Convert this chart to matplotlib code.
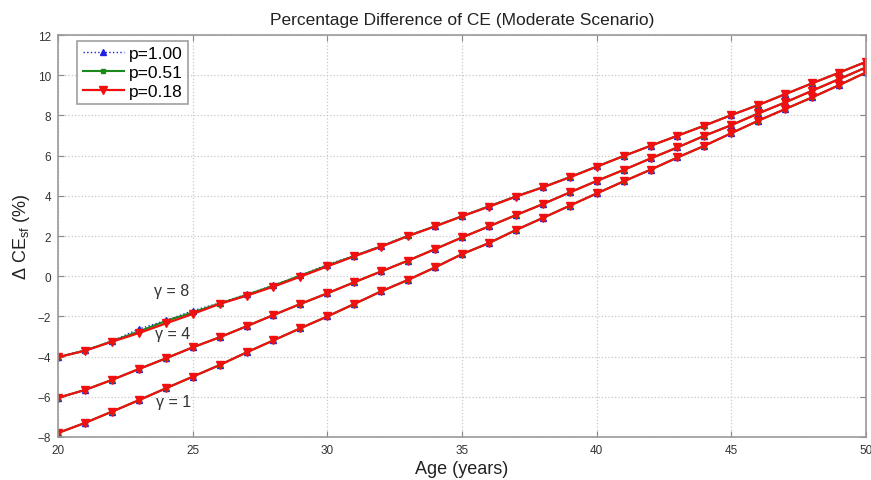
import matplotlib
matplotlib.use('Agg')
from matplotlib import pyplot as plt

ages = list(range(20, 51))

# gamma = 8
g8_p100 = [-4.00, -3.68, -3.22, -2.63, -2.20, -1.72, -1.33, -0.90, -0.45, 0.05, 0.58, 1.03,
           1.52, 2.03, 2.50, 3.00, 3.50, 3.99, 4.45, 4.95, 5.47, 5.99, 6.50, 7.00, 7.51,
           8.03, 8.53, 9.07, 9.61, 10.14, 10.68]
g8_p051 = [-4.02, -3.70, -3.24, -2.75, -2.23, -1.80, -1.36, -0.93, -0.47, 0.03, 0.53, 1.01,
           1.49, 2.01, 2.49, 2.99, 3.48, 3.97, 4.43, 4.93, 5.46, 5.98, 6.49, 6.99, 7.50,
           8.02, 8.52, 9.06, 9.60, 10.13, 10.67]
g8_p018 = [-4.03, -3.71, -3.26, -2.83, -2.35, -1.88, -1.38, -0.97, -0.52, -0.02, 0.49, 0.99,
           1.47, 2.00, 2.48, 2.98, 3.46, 3.96, 4.42, 4.92, 5.45, 5.98, 6.49, 6.99, 7.49,
           8.02, 8.52, 9.06, 9.60, 10.13, 10.67]

# gamma = 4
g4_p100 = [-6.05, -5.66, -5.16, -4.62, -4.09, -3.54, -3.04, -2.49, -1.93, -1.38, -0.85, -0.30,
           0.24, 0.78, 1.35, 1.93, 2.48, 3.04, 3.59, 4.17, 4.74, 5.29, 5.86, 6.41, 6.99,
           7.52, 8.10, 8.65, 9.23, 9.81, 10.39]
g4_p051 = g4_p100
g4_p018 = g4_p100

# gamma = 1
g1_p100 = [-7.80, -7.30, -6.74, -6.17, -5.58, -5.00, -4.42, -3.79, -3.19, -2.59, -2.00, -1.38,
           -0.75, -0.18, 0.44, 1.10, 1.65, 2.30, 2.90, 3.51, 4.12, 4.72, 5.30, 5.91, 6.49,
           7.12, 7.74, 8.32, 8.90, 9.51, 10.14]
g1_p051 = g1_p100
g1_p018 = g1_p100

gamma_labels = ['\u03b3 = 8', '\u03b3 = 4', '\u03b3 = 1']
gamma_label_pos = [(24.2, -0.72), (24.27, -2.87), (24.3, -6.24)]

plt.rcParams['font.family'] = ['Liberation Sans', 'DejaVu Sans']
plt.rcParams['mathtext.fontset'] = 'custom'
plt.rcParams['mathtext.rm'] = 'Liberation Sans'
plt.rcParams['mathtext.it'] = 'Liberation Sans:italic'

fig = plt.figure(figsize=(8.71, 4.81), dpi=100)
ax = fig.add_axes([0.0666, 0.0894, 0.9277, 0.8356])

groups = [(g8_p100, g8_p051, g8_p018), (g4_p100, g4_p051, g4_p018), (g1_p100, g1_p051, g1_p018)]
for i, (a, b, c) in enumerate(groups):
    ax.plot(ages, a, color='#2020e0', linestyle=':', linewidth=1.0, marker='^', markersize=4,
            label='p=1.00' if i == 0 else None)
    ax.plot(ages, b, color='#1a8a1a', linestyle='-', linewidth=1.5, marker='s', markersize=3.5,
            label='p=0.51' if i == 0 else None)
    ax.plot(ages, c, color='#f01010', linestyle='-', linewidth=1.6, marker='v', markersize=5.5,
            label='p=0.18' if i == 0 else None)

for lbl, (x, y) in zip(gamma_labels, gamma_label_pos):
    ax.text(x, y, lbl, fontsize=11.5, color='#333333', ha='center', va='center')

ax.set_xlim(20, 50)
ax.set_ylim(-8, 12)
ax.set_xticks(range(20, 51, 5))
ax.set_yticks(range(-8, 13, 2))
ax.grid(True, linestyle=':', color='#c8c8c8', linewidth=0.9)
ax.tick_params(direction='in', length=4, colors='#888888', labelcolor='#333333', labelsize=8.5,
               top=True, right=True, pad=5)
for s in ax.spines.values():
    s.set_color('#999999')
    s.set_linewidth(1.2)

ax.set_title('Percentage Difference of CE (Moderate Scenario)', fontsize=12.5, color='#222222', pad=8)
ax.set_xlabel('Age (years)', fontsize=13, color='#222222', labelpad=3)
ax.set_ylabel(r'$\Delta$ CE$_{\mathrm{sf}}$ (%)', fontsize=13, color='#222222', labelpad=4)

leg = ax.legend(loc='upper left', bbox_to_anchor=(0.024, 0.985), fontsize=12.5, frameon=True,
                fancybox=False, handlelength=2.4, handletextpad=0.25, borderpad=0.3,
                labelspacing=0.2, borderaxespad=0.0)
leg.get_frame().set_edgecolor('#888888')
leg.get_frame().set_linewidth(1.2)

plt.savefig('out.png', dpi=100)
plt.close()
